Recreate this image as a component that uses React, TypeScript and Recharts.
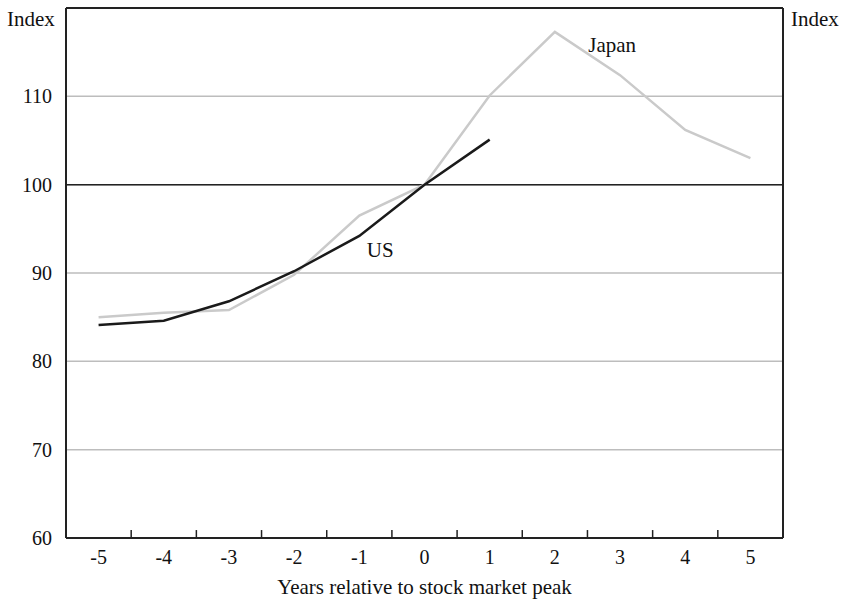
import { LineChart, Line, XAxis, YAxis, CartesianGrid, ReferenceLine, ReferenceDot } from 'recharts'

const years = [-5, -4, -3, -2, -1, 0, 1, 2, 3, 4, 5]
const usValues = [84.1, 84.6, 86.8, 90.2, 94.2, 100, 105.1, null, null, null, null]
const japanValues = [85.0, 85.5, 85.8, 89.8, 96.5, 100, 110.1, 117.3, 112.4, 106.2, 103.0]
const yTicks = [60, 70, 80, 90, 100, 110]
const bandEdges = [-4.5, -3.5, -2.5, -1.5, -0.5, 0.5, 1.5, 2.5, 3.5, 4.5]

const data = years.map((y, i) => ({ year: y, us: usValues[i], japan: japanValues[i] }))

const font = '"Liberation Serif", "Times New Roman", serif'
const tickStyle = { fontFamily: font, fontSize: 20, fill: '#111' }
const textStyle = { fontFamily: font, fontSize: 21, fill: '#111' }

export default function App() {
  return (
    <div style={{ position: 'absolute', left: 0, top: 0, width: 844, height: 599, background: '#fff' }}>
      <LineChart width={844} height={599} data={data} margin={{ top: 8, right: 8, bottom: 1, left: 8 }}>
        <CartesianGrid yAxisId="left" vertical={false} stroke="#bdbdbd" strokeWidth={1.5} />
        <XAxis
          dataKey="year"
          type="number"
          domain={[-5.5, 5.5]}
          ticks={years}
          tickLine={false}
          axisLine={{ stroke: '#222', strokeWidth: 2 }}
          tick={tickStyle}
          tickMargin={6}
          height={60}
          label={{ value: 'Years relative to stock market peak', position: 'insideBottom', offset: 4, style: textStyle }}
        />
        <YAxis
          yAxisId="left"
          domain={[60, 120]}
          ticks={yTicks}
          tickLine={false}
          axisLine={{ stroke: '#222', strokeWidth: 2 }}
          tick={tickStyle}
          tickMargin={8}
          width={58}
        />
        <YAxis
          yAxisId="right"
          orientation="right"
          domain={[60, 120]}
          ticks={yTicks}
          tickLine={false}
          axisLine={{ stroke: '#222', strokeWidth: 2 }}
          tick={{ ...tickStyle, textAnchor: 'start' }}
          tickMargin={6}
          width={53}
        />
        <ReferenceLine yAxisId="left" y={100} stroke="#222" strokeWidth={1.5} />
        <ReferenceLine yAxisId="left" y={120} stroke="#222" strokeWidth={2} />
        {bandEdges.map((e) => (
          <ReferenceLine
            key={e}
            yAxisId="left"
            segment={[{ x: e, y: 60 }, { x: e, y: 60.9 }]}
            stroke="#222"
            strokeWidth={1.5}
          />
        ))}
        <Line yAxisId="left" dataKey="japan" stroke="#cacaca" strokeWidth={2.5} dot={false} isAnimationActive={false} />
        <Line yAxisId="left" dataKey="us" stroke="#1a1a1a" strokeWidth={2.5} dot={false} isAnimationActive={false} connectNulls={false} />
        <ReferenceDot yAxisId="left" x={2.88} y={115.9} r={0} label={{ value: 'Japan', style: textStyle }} />
        <ReferenceDot yAxisId="left" x={-0.68} y={92.6} r={0} label={{ value: 'US', style: textStyle }} />
      </LineChart>
      <div style={{ position: 'absolute', left: 7, top: 7, fontFamily: font, fontSize: 21, color: '#111' }}>Index</div>
      <div style={{ position: 'absolute', left: 791, top: 7, fontFamily: font, fontSize: 21, color: '#111' }}>Index</div>
    </div>
  )
}
